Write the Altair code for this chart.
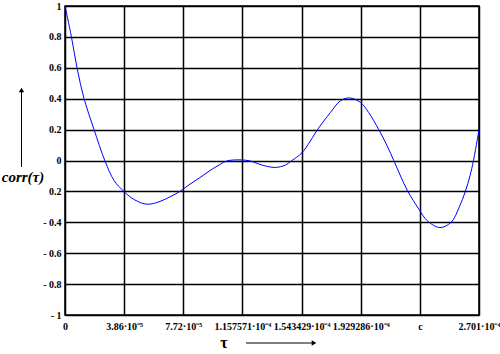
import altair as alt
import pandas as pd

# curve samples (tau in units of 1e-5 s, correlation)
tau_e5 = [0.0, 0.42, 0.785, 1.243, 1.897, 2.596, 3.205, 3.839, 4.55, 5.363, 6.2, 6.85, 7.501,
          8.155, 8.81, 9.46, 10.12, 10.556, 11.425, 12.08, 12.87, 13.714, 14.37, 14.807,
          15.46, 16.546, 17.311, 17.965, 18.573, 19.274, 19.816, 20.47, 21.02, 21.451,
          21.89, 22.35, 23.086, 23.635, 24.46, 25.19, 25.73, 26.12, 26.42, 26.65, 27.01]
corr = [1.0, 0.8, 0.6, 0.4, 0.2, 0.0, -0.13, -0.2, -0.255, -0.283, -0.265, -0.235, -0.2,
        -0.153, -0.11, -0.065, -0.025, -0.003, 0.004, -0.003, -0.03, -0.045, -0.03, 0.0,
        0.05, 0.21, 0.31, 0.386, 0.405, 0.376, 0.31, 0.2, 0.094, 0.0,
        -0.1, -0.197, -0.315, -0.39, -0.434, -0.4, -0.3, -0.2, -0.1, 0.0, 0.2]

x_max = 2.701e-4
n_div = 7
x_tick_labels = ['0', '3.86·10⁻⁵', '7.72·10⁻⁵', '1.157571·10⁻⁴', '1.543429·10⁻⁴',
                 '1.929286·10⁻⁴', 'c', '2.701·10⁻⁴']
y_tick_labels = ['- 1', '- 0.8', '- 0.6', '- 0.4', '0.2', '0', '0.2', '0.4', '0.6', '0.8', '1']

df = pd.DataFrame({'tau': [t * 1e-5 for t in tau_e5], 'corr': corr})

step = x_max / n_div
x_vals = [i * step for i in range(n_div + 1)]
y_vals = [round(-1 + 0.2 * i, 1) for i in range(11)]

x_expr = "[" + ",".join("'" + s + "'" for s in x_tick_labels) + "][round(datum.value / " + repr(step) + ")]"
y_expr = "[" + ",".join("'" + s + "'" for s in y_tick_labels) + "][round((datum.value + 1) * 5)]"

FONT = "Liberation Serif"

line = alt.Chart(df).mark_line(color='#0000ff', strokeWidth=1, interpolate='catmull-rom').encode(
    x=alt.X('tau:Q', scale=alt.Scale(domain=[0, x_max], nice=False, zero=False),
            axis=alt.Axis(values=x_vals, labelExpr=x_expr, title=None, grid=True,
                          gridColor='black', gridWidth=1.5, gridOpacity=1, ticks=False,
                          domain=False, labelFont=FONT, labelFontWeight='bold',
                          labelFontSize=10, labelColor='black', labelPadding=6,
                          labelFlush=False, labelOverlap=False)),
    y=alt.Y('corr:Q', scale=alt.Scale(domain=[-1, 1], nice=False),
            axis=alt.Axis(values=y_vals, labelExpr=y_expr, title=None, grid=True,
                          gridColor='black', gridWidth=1.5, gridOpacity=1, ticks=False,
                          domain=False, labelFont=FONT, labelFontWeight='bold',
                          labelFontSize=10, labelColor='black', labelPadding=4,
                          labelFlush=False, labelOverlap=False)),
)

one = alt.Data(values=[{}])

y_arrow = alt.Chart(one).mark_rule(color='black', strokeWidth=1).encode(
    x=alt.value(-43.5), y=alt.value(84), y2=alt.value(161))
y_head = alt.Chart(one).mark_point(shape='triangle-up', filled=True, color='black',
                                   size=28, opacity=1).encode(
    x=alt.value(-43.5), y=alt.value(84))
y_title = alt.Chart(one).mark_text(text='corr(τ)', font=FONT, fontStyle='italic',
                                   fontWeight='bold', fontSize=15, color='black',
                                   align='center', baseline='middle').encode(
    x=alt.value(-42), y=alt.value(171))

x_arrow = alt.Chart(one).mark_rule(color='black', strokeWidth=1).encode(
    x=alt.value(181), x2=alt.value(250), y=alt.value(337))
x_head = alt.Chart(one).mark_point(shape='triangle-right', filled=True, color='black',
                                   size=28, opacity=1).encode(
    x=alt.value(249), y=alt.value(337))
x_title = alt.Chart(one).mark_text(text='τ', font=FONT, fontWeight='bold', fontSize=16,
                                   color='black', align='center', baseline='middle').encode(
    x=alt.value(159), y=alt.value(337))

chart = alt.layer(line, y_arrow, y_head, y_title, x_arrow, x_head, x_title).properties(
    width=414, height=309,
    autosize=alt.AutoSizeParams(type='none'),
    padding={'left': 65, 'top': 6, 'right': 21, 'bottom': 39},
    background='white',
).configure_view(stroke='black', strokeWidth=1.5)

chart.save("out.html", embed_options={"renderer": "svg", "actions": False})
